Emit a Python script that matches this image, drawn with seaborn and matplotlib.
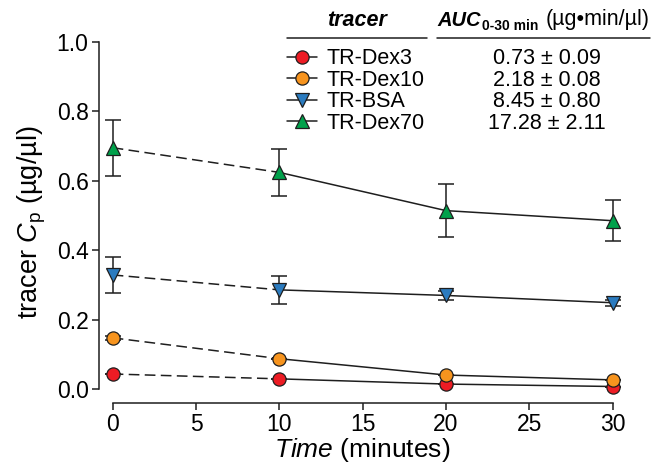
import matplotlib
matplotlib.use("Agg")
import matplotlib.pyplot as plt
from matplotlib.lines import Line2D
import seaborn as sns
import pandas as pd
import numpy as np

# Datos
# ------
tiempo = [0, 10, 20, 30]
trazadores = ["TR-Dex3", "TR-Dex10", "TR-BSA", "TR-Dex70"]
dex3 = [0.044, 0.030, 0.015, 0.008]
dex10 = [0.148, 0.088, 0.041, 0.027]
bsa = [0.329, 0.286, 0.270, 0.249]
dex70 = [0.695, 0.624, 0.514, 0.485]
err_dex3 = [0.0, 0.0, 0.0, 0.0]
err_dex10 = [0.006, 0.0, 0.0, 0.0]
err_bsa = [0.052, 0.040, 0.013, 0.008]
err_dex70 = [0.080, 0.067, 0.076, 0.059]
auc = ["0.73 ± 0.09", "2.18 ± 0.08", "8.45 ± 0.80", "17.28 ± 2.11"]

colores = ["#ED1C24", "#F7941E", "#2B7BBF", "#00A14B"]
marcadores = ["o", "o", "v", "^"]
tamanos = [9.5, 9.5, 10.5, 10.5]

valores = [dex3, dex10, bsa, dex70]
errores = [err_dex3, err_dex10, err_bsa, err_dex70]

# Tabla larga para seaborn
filas = []
for nombre, vals, errs in zip(trazadores, valores, errores):
    for t, v, e in zip(tiempo, vals, errs):
        filas.append([nombre, t, v, e])
df = pd.DataFrame(filas, columns=["tracer", "time", "cp", "err"])

sns.set_style("ticks")
plt.rcParams["font.family"] = ["Liberation Sans", "DejaVu Sans"]
plt.rcParams["mathtext.fontset"] = "custom"
plt.rcParams["mathtext.rm"] = "Liberation Sans"
plt.rcParams["mathtext.it"] = "Liberation Sans:italic"
plt.rcParams["mathtext.bf"] = "Liberation Sans:bold"
plt.rcParams["text.color"] = "black"
plt.rcParams["axes.labelcolor"] = "black"
plt.rcParams["xtick.color"] = "black"
plt.rcParams["ytick.color"] = "black"

fig = plt.figure(figsize=(6.54, 4.68), dpi=100)
ax = fig.add_axes([99 / 654, 1 - 402.7 / 468, 526 / 654, (402.7 - 41.7) / 468])

linea = "#1e1e1e"
for i, nombre in enumerate(trazadores):
    d = df[df["tracer"] == nombre]
    # tramo 0-10 discontinuo, resto continuo
    sns.lineplot(data=d.iloc[:2], x="time", y="cp", ax=ax, color=linea,
                 linestyle=(0, (7, 3.5)), linewidth=1.1, zorder=2 + i)
    sns.lineplot(data=d.iloc[1:], x="time", y="cp", ax=ax, color=linea,
                 linewidth=1.1, zorder=2 + i)
    ax.errorbar(d["time"], d["cp"], yerr=d["err"], fmt="none", ecolor=linea,
                elinewidth=1.1, capsize=6, capthick=1.1, zorder=2 + i)
    ax.plot(d["time"], d["cp"], linestyle="none", marker=marcadores[i],
            markersize=tamanos[i], markerfacecolor=colores[i],
            markeredgecolor=linea, markeredgewidth=0.9, zorder=3 + i, clip_on=False)

ax.set_xlim(-0.82, 30.74)
ax.set_ylim(-0.0386, 1.0)
ax.set_xticks(range(0, 31, 5))
ax.set_yticks(np.arange(0, 1.01, 0.2))
ax.set_yticklabels([f"{v:.1f}" for v in np.arange(0, 1.01, 0.2)])
ax.spines["left"].set_bounds(0, 1)
ax.spines["bottom"].set_bounds(0, 30)
ax.spines["top"].set_visible(False)
ax.spines["right"].set_visible(False)
for s in ["left", "bottom"]:
    ax.spines[s].set_linewidth(1.1)
    ax.spines[s].set_color(linea)
ax.tick_params(axis="both", labelsize=16.5, length=5, width=1.1, color=linea, pad=2.5)

ax.set_xlabel(r"$Time$ (minutes)", fontsize=19, labelpad=0)
ax.set_ylabel(r"tracer $C_{\mathrm{p}}$ (µg/µl)", fontsize=19.5, labelpad=6)

# Leyenda
manejadores = [Line2D([], [], color=linea, linewidth=1.1, marker=m, markersize=s,
                      markerfacecolor=c, markeredgecolor=linea, markeredgewidth=0.9)
               for m, s, c in zip(marcadores, tamanos, colores)]
leg = ax.legend(manejadores, trazadores, loc="upper left",
                bbox_to_anchor=(287 / 654, 1 - 48.5 / 468), bbox_transform=fig.transFigure,
                frameon=False, fontsize=15.5, handlelength=1.4, handletextpad=0.45,
                labelspacing=0.02, borderpad=0, borderaxespad=0)

# Columna AUC alineada con las filas de la leyenda
fig.canvas.draw()
inv = fig.transFigure.inverted()
for txt, valor in zip(leg.get_texts(), auc):
    bb = txt.get_window_extent()
    y = inv.transform((0, (bb.y0 + bb.y1) / 2))[1]
    fig.text(547 / 654, y, valor, fontsize=15.5, ha="center", va="center")

# Cabeceras
ycab = 1 - 20 / 468
fig.text(357 / 654, ycab, "tracer", fontsize=15.5, fontweight="bold",
         fontstyle="italic", ha="center", va="center")
t_auc = fig.text(437 / 654, ycab, "AUC", fontsize=14.5, fontweight="bold",
                 fontstyle="italic", ha="left", va="center")
fig.canvas.draw()
x_fin = inv.transform((t_auc.get_window_extent().x1, 0))[0]
fig.text(x_fin + 1 / 654, 1 - 26 / 468, "0-30 min", fontsize=10, fontweight="bold",
         ha="left", va="center")
fig.text(650 / 654, ycab, "(µg•min/µl)", fontsize=15.5, ha="right", va="center")
ylin = 1 - 37.7 / 468
fig.add_artist(Line2D([287 / 654, 427 / 654], [ylin, ylin], color=linea, linewidth=1.1))
fig.add_artist(Line2D([437 / 654, 650 / 654], [ylin, ylin], color=linea, linewidth=1.1))

fig.savefig("out.png", dpi=100)
